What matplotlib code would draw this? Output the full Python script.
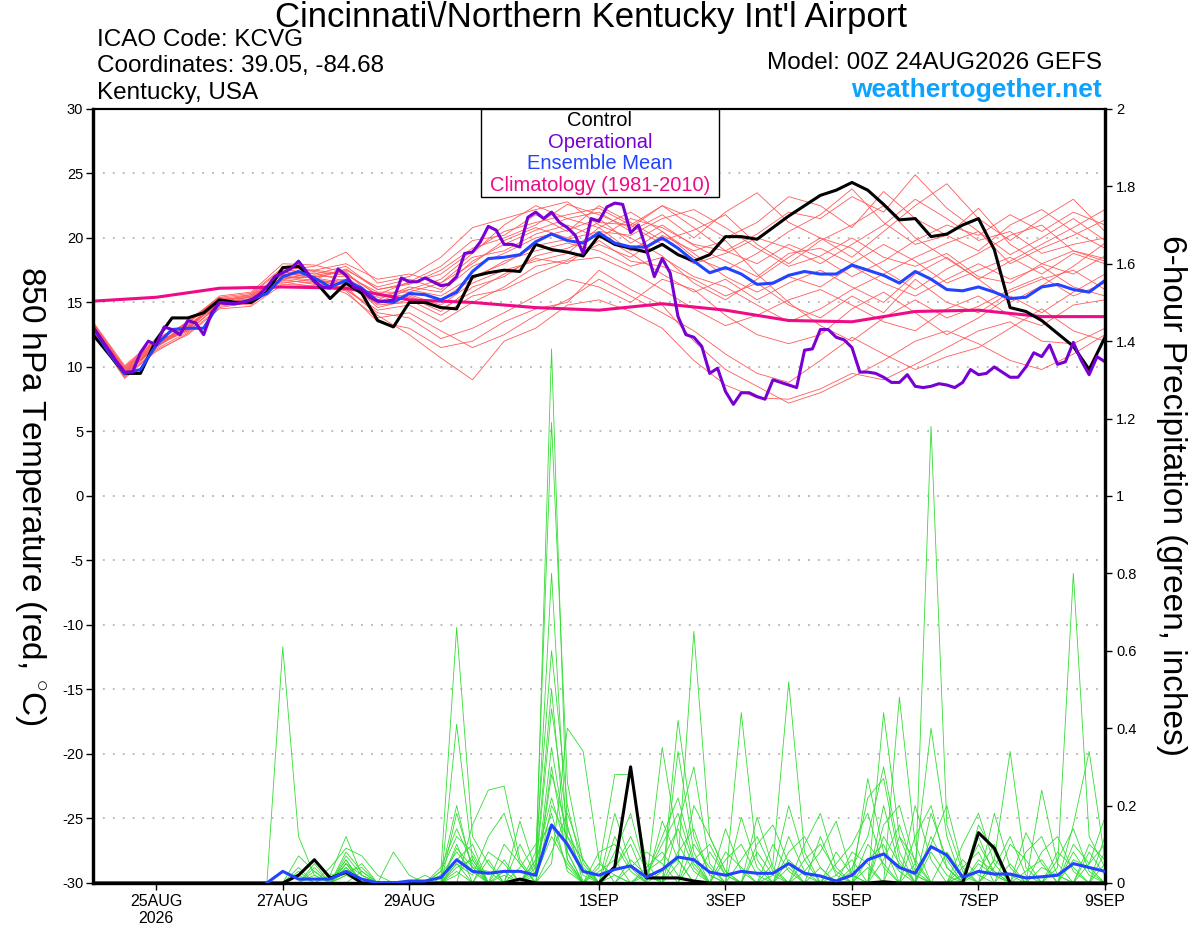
import pandas as pd
import matplotlib
matplotlib.use("Agg")
import matplotlib.pyplot as plt
from matplotlib.patches import Rectangle

plt.rcParams['font.family'] = ['Liberation Sans', 'DejaVu Sans']
plt.rcParams['mathtext.fontset'] = 'custom'
plt.rcParams['mathtext.rm'] = 'Liberation Sans'
plt.rcParams['axes.unicode_minus'] = False

# time axes (model run 00Z 24AUG2026)
times_3h = pd.date_range("2026-08-24 00:00", periods=129, freq="3h")
times_6h = pd.date_range("2026-08-24 00:00", periods=65, freq="6h")
times_12h = pd.date_range("2026-08-24 00:00", periods=33, freq="12h")
times_24h = pd.date_range("2026-08-24 00:00", periods=17, freq="24h")

tick_dates = pd.to_datetime(["2026-08-25", "2026-08-27", "2026-08-29", "2026-09-01",
                             "2026-09-03", "2026-09-05", "2026-09-07", "2026-09-09"])
tick_labels = ["25AUG\n2026", "27AUG", "29AUG", "1SEP", "3SEP", "5SEP", "7SEP", "9SEP"]

# operational run, 850 hPa temp (3-hourly)
operational = [
    13.1, 12.2, 11.3, 10.4, 9.6, 9.6, 11.1, 12.0, 11.7, 13.1, 12.9, 12.5, 13.6, 13.4, 12.5, 14.2,
    15.0, 14.9, 14.9, 15.0, 15.2, 15.6, 16.2, 17.0, 17.3, 17.6, 18.2, 17.4, 16.6, 16.2, 16.1, 17.6,
    17.1, 16.2, 16.0, 15.4, 15.1, 15.1, 15.2, 16.9, 16.6, 16.6, 16.9, 16.6, 16.3, 16.4, 17.0, 18.8,
    18.9, 19.7, 20.9, 20.6, 19.5, 19.5, 19.3, 21.6, 22.0, 21.5, 22.0, 21.2, 20.8, 20.2, 18.8, 21.5,
    21.3, 22.4, 22.7, 22.6, 20.4, 21.0, 19.1, 17.0, 18.4, 17.3, 13.9, 12.5, 12.3, 11.6, 9.5, 9.9,
    8.1, 7.1, 8.0, 8.0, 7.7, 7.5, 9.0, 8.8, 8.6, 8.4, 11.3, 11.4, 12.9, 12.9, 12.3, 12.1,
    11.5, 9.6, 9.6, 9.5, 9.2, 8.8, 8.8, 9.4, 8.5, 8.4, 8.5, 8.7, 8.6, 8.4, 8.8, 9.8,
    9.4, 9.5, 10.0, 9.6, 9.2, 9.2, 10.0, 11.1, 10.8, 11.7, 10.2, 10.4, 11.9, 10.5, 9.4, 10.8,
    10.4,
]

# control and ensemble mean, 850 hPa temp (6-hourly)
control = [
    12.5, 11.0, 9.5, 9.5, 12.1, 13.8, 13.8, 14.2, 15.2, 15.0, 15.0, 15.8, 17.7,
    17.8, 16.7, 15.3, 16.5, 15.7, 13.6, 13.1, 15.0, 15.0, 14.6, 14.5, 17.0, 17.3,
    17.5, 17.4, 19.5, 19.1, 18.9, 18.6, 20.2, 19.5, 19.2, 18.9, 19.5, 18.7, 18.2,
    18.7, 20.1, 20.1, 19.9, 20.8, 21.7, 22.5, 23.3, 23.7, 24.3, 23.7, 22.6, 21.4,
    21.5, 20.1, 20.3, 21.0, 21.5, 19.1, 14.6, 14.3, 13.6, 12.6, 11.6, 9.8, 12.3,
]
ens_mean = [
    13.1, 11.1, 9.5, 9.8, 11.7, 12.9, 13.0, 13.0, 15.0, 14.9, 15.2, 15.7, 17.0,
    17.4, 16.9, 16.2, 16.7, 16.1, 15.1, 15.0, 15.7, 15.6, 15.2, 15.8, 17.4, 18.4,
    18.5, 18.7, 19.7, 20.3, 19.8, 19.6, 20.4, 19.6, 19.3, 19.3, 20.0, 19.2, 18.2,
    17.3, 17.7, 17.2, 16.4, 16.5, 17.1, 17.4, 17.2, 17.2, 17.9, 17.5, 17.1, 16.5,
    17.4, 16.8, 16.0, 15.9, 16.2, 15.8, 15.3, 15.4, 16.2, 16.4, 16.0, 15.8, 16.7,
]

# 1981-2010 climatology (daily)
climatology = [15.1, 15.4, 16.1, 16.2, 16.1, 15.2, 15.0, 14.6, 14.4,
               14.9, 14.4, 13.6, 13.5, 14.3, 14.4, 13.9, 13.9]

# ensemble members, 850 hPa temp (12-hourly)
member_temps = [
    [13.3, 9.8, 12.0, 13.4, 15.3, 15.6, 17.6, 17.2, 17.8, 16.0, 16.5, 17.2, 19.0, 20.5, 21.2, 21.8, 22.3,
     21.0, 22.5, 20.8, 19.0, 20.3, 22.0, 21.5, 23.2, 22.0, 24.9, 22.3, 20.5, 18.7, 20.0, 21.5, 19.8],
    [12.8, 9.3, 11.2, 12.6, 14.6, 15.0, 16.8, 16.4, 16.2, 14.0, 12.5, 10.7, 9.0, 12.0, 13.0, 14.8, 15.2,
     14.3, 13.0, 10.5, 8.6, 7.6, 7.5, 8.3, 9.5, 9.0, 10.2, 11.5, 12.8, 13.5, 12.0, 11.8, 13.0],
    [13.0, 9.6, 11.8, 13.2, 15.2, 15.0, 17.5, 17.8, 18.9, 16.5, 17.0, 18.5, 20.8, 21.5, 22.2, 22.8, 21.0,
     20.0, 18.6, 16.5, 15.2, 16.8, 18.5, 20.0, 19.2, 17.5, 16.0, 17.6, 18.8, 20.2, 21.0, 19.0, 18.2],
    [13.4, 10.0, 12.1, 12.8, 14.8, 15.5, 16.6, 16.2, 16.0, 14.4, 14.8, 13.5, 15.0, 16.2, 17.8, 18.3, 19.5,
     18.5, 20.2, 19.0, 19.8, 17.2, 15.0, 13.2, 12.0, 13.8, 15.2, 13.8, 14.7, 16.0, 17.0, 15.5, 16.5],
    [12.9, 9.4, 11.5, 13.6, 15.4, 14.9, 17.3, 17.5, 17.2, 15.6, 16.6, 17.8, 19.8, 20.2, 21.8, 20.5, 22.5,
     21.2, 19.8, 20.6, 21.8, 19.5, 18.0, 19.8, 21.0, 22.5, 20.0, 18.4, 16.8, 18.2, 19.5, 20.8, 22.2],
    [13.2, 9.7, 11.9, 13.1, 15.0, 15.3, 16.9, 16.6, 15.7, 13.8, 14.2, 12.8, 11.5, 12.5, 14.0, 15.2, 16.8,
     15.5, 14.2, 12.8, 11.0, 9.5, 8.8, 10.5, 12.3, 11.0, 9.8, 10.8, 11.5, 13.0, 14.5, 12.8, 12.0],
    [13.0, 9.5, 11.6, 12.9, 15.1, 15.4, 17.2, 17.1, 17.5, 16.2, 16.8, 16.0, 18.2, 19.5, 20.6, 21.5, 20.8,
     22.0, 20.5, 18.5, 17.5, 18.8, 20.5, 21.8, 23.8, 21.2, 19.5, 20.2, 22.3, 19.5, 18.0, 17.2, 18.6],
    [13.1, 9.6, 11.7, 13.3, 14.7, 15.1, 16.5, 16.8, 16.4, 15.0, 15.4, 14.3, 16.2, 17.0, 18.6, 19.2, 20.2,
     18.8, 17.2, 15.8, 16.8, 15.2, 16.5, 17.5, 16.2, 15.0, 17.2, 18.5, 16.8, 15.0, 16.3, 17.8, 19.6],
    [13.5, 10.1, 12.2, 13.4, 15.5, 15.8, 18.0, 17.9, 17.3, 15.5, 16.0, 16.8, 18.8, 21.0, 22.5, 21.5, 22.0,
     20.5, 21.8, 20.0, 22.0, 23.5, 21.2, 20.0, 18.5, 20.5, 22.5, 24.2, 21.5, 19.8, 21.5, 23.0, 20.5],
    [12.7, 9.2, 11.4, 12.7, 14.9, 15.2, 17.0, 16.9, 16.0, 14.2, 13.8, 12.2, 13.0, 14.2, 15.5, 16.8, 16.2,
     15.0, 16.8, 16.0, 14.0, 12.5, 11.8, 12.5, 14.5, 15.8, 14.2, 12.5, 13.8, 15.5, 14.2, 15.8, 17.2],
    [13.2, 9.8, 11.8, 13.0, 15.2, 15.5, 17.2, 17.0, 17.0, 15.2, 16.2, 15.8, 17.8, 18.8, 20.0, 20.6, 21.5,
     19.6, 21.0, 19.4, 18.2, 17.0, 18.8, 19.2, 18.0, 19.5, 18.2, 16.5, 17.5, 18.5, 17.2, 18.8, 18.0],
    [13.0, 9.4, 11.6, 13.2, 15.0, 14.8, 16.8, 17.3, 16.6, 14.8, 15.0, 15.2, 16.8, 18.2, 19.0, 19.6, 19.0,
     17.8, 18.5, 17.0, 16.2, 14.8, 13.5, 14.5, 16.0, 17.2, 18.5, 19.6, 20.5, 18.0, 19.2, 20.2, 21.4],
    [13.3, 9.9, 12.0, 13.5, 15.3, 15.0, 17.4, 16.8, 17.6, 16.0, 16.4, 17.5, 19.2, 20.0, 21.0, 22.6, 21.8,
     20.8, 22.5, 21.5, 20.0, 21.2, 23.2, 22.5, 20.8, 23.6, 21.5, 20.2, 19.0, 21.0, 22.2, 20.5, 19.2],
    [12.9, 9.5, 11.7, 12.8, 14.8, 15.3, 16.7, 16.5, 16.8, 14.6, 15.2, 14.0, 15.5, 16.0, 17.2, 18.2, 18.5,
     17.4, 16.0, 14.5, 13.2, 14.0, 15.2, 16.0, 14.8, 13.5, 12.8, 14.5, 15.5, 14.0, 13.2, 14.8, 15.2],
    [13.1, 9.7, 11.9, 13.0, 15.1, 15.6, 17.1, 17.4, 17.1, 15.8, 15.8, 16.5, 18.0, 19.8, 20.8, 20.0, 21.2,
     21.0, 19.5, 18.0, 18.8, 20.0, 19.2, 18.0, 19.5, 21.0, 23.0, 21.5, 19.8, 20.5, 18.8, 19.5, 20.0],
    [13.2, 9.6, 11.5, 13.1, 14.9, 15.1, 17.0, 16.7, 16.3, 15.4, 15.6, 14.8, 16.5, 17.5, 18.2, 18.8, 20.8,
     19.0, 20.5, 18.8, 17.0, 15.8, 17.0, 16.2, 17.8, 16.5, 15.5, 16.8, 18.0, 16.8, 17.8, 16.2, 15.5],
    [13.0, 9.3, 11.8, 12.9, 15.2, 15.4, 16.9, 17.0, 17.4, 15.0, 16.0, 15.5, 17.0, 18.0, 19.4, 19.9, 20.5,
     20.2, 21.5, 22.2, 20.8, 19.2, 17.8, 18.6, 20.0, 18.5, 17.8, 18.8, 17.0, 16.5, 18.0, 19.0, 18.4],
    [13.1, 9.5, 11.6, 13.0, 15.0, 15.2, 17.0, 16.9, 16.5, 14.9, 15.5, 14.5, 15.8, 17.2, 18.4, 18.0, 19.8,
     18.2, 17.8, 16.8, 15.5, 16.5, 14.8, 13.8, 15.5, 14.2, 16.8, 15.0, 14.2, 15.8, 16.8, 17.5, 16.0],
    [12.8, 9.1, 11.3, 12.5, 14.5, 14.7, 16.4, 16.3, 15.9, 13.5, 13.0, 11.5, 12.0, 13.5, 14.5, 15.0, 17.5,
     16.0, 14.8, 12.0, 9.8, 8.5, 7.2, 8.0, 9.2, 10.5, 12.0, 12.8, 11.8, 10.5, 9.8, 11.0, 12.5],
    [13.4, 9.9, 12.1, 13.4, 15.4, 15.7, 17.7, 17.5, 18.0, 16.8, 17.2, 16.5, 18.5, 19.0, 20.3, 21.0, 20.0,
     21.5, 20.8, 19.5, 19.0, 18.0, 19.5, 18.5, 17.0, 18.2, 19.8, 21.0, 20.2, 21.8, 20.5, 22.0, 21.0],
]

# 6-hour precipitation, inches (6-hourly); None = not drawn
control_precip = [
    0, 0, 0, 0, 0, 0, 0, 0, 0, 0, 0, 0, 0,
    .02, .06, .013, .027, 0, 0, 0, 0, 0, 0, 0, 0, 0,
    0, .01, 0, 0, 0, 0, 0, .042, .30, .013, .013, .013, .005,
    0, 0, 0, 0, 0, 0, 0, 0, 0, 0, 0, .003, 0,
    0, 0, 0, 0, .13, .09, 0, 0, 0, 0, 0, 0, 0,
]
mean_precip = [
    None, None, None, None, None, None, None, None, None, None, None, 0, .03,
    .01, .01, .01, .03, .01, 0, 0, .005, .005, .014, .06, .03, .025,
    .03, .03, .02, .15, .10, .03, .02, .035, .044, .015, .035, .067, .06,
    .028, .02, .03, .025, .025, .05, .025, .018, .005, .02, .06, .075, .04,
    .025, .094, .072, .015, .03, .023, .023, .013, .016, .02, .05, .04, .03,
]
member_precip = [
    [0, 0, 0, 0, 0, 0, 0, 0, 0, 0, 0, 0, .61,
     .12, .02, 0, 0, .03, 0, 0, 0, 0, .02, .08, .03, 0,
     0, 0, .05, .22, .08, 0, 0, .04, .10, 0, 0, .05, .65,
     .12, .03, 0, 0, 0, .06, .02, 0, 0, 0, .10, .05, 0,
     0, 1.18, .15, .03, 0, 0, .05, 0, 0, 0, .08, .02, 0],
    [0, 0, 0, 0, 0, 0, 0, 0, 0, 0, 0, 0, 0,
     .03, 0, .02, .12, .02, 0, 0, 0, 0, .03, .66, .12, .05,
     0, 0, .02, 1.38, .12, .03, 0, 0, 0, .04, .08, .02, 0,
     0, 0, .44, .06, 0, 0, 0, .04, 0, 0, .27, .08, .03,
     0, 0, 0, 0, .05, .02, 0, 0, 0, .04, .80, .12, .04],
    [0, 0, 0, 0, 0, 0, 0, 0, 0, 0, 0, 0, 0,
     0, .04, 0, .07, .02, 0, 0, 0, 0, 0, .41, .06, 0,
     .03, 0, .06, 1.19, .26, .05, 0, .02, 0, 0, .35, .10, .03,
     0, 0, 0, 0, .05, .52, .08, 0, 0, 0, 0, .44, .12,
     .02, 0, 0, 0, 0, .06, .34, .04, 0, 0, 0, .05, .17],
    [0, 0, 0, 0, 0, 0, 0, 0, 0, 0, 0, 0, 0,
     .07, .03, 0, .05, 0, 0, .08, .02, 0, 0, 0, .15, .24,
     .25, .06, 0, .05, .40, .34, .06, 0, 0, 0, 0, .42, .12,
     .02, 0, 0, .17, .04, 0, 0, 0, .02, .06, 0, 0, .48,
     .10, 0, 0, .02, .10, .03, 0, 0, .24, .05, 0, 0, .12],
    [0, 0, 0, 0, 0, 0, 0, 0, 0, 0, 0, 0, 0,
     0, 0, .04, .09, .07, .02, 0, 0, 0, 0, .18, .04, 0,
     0, .16, .03, .45, .15, 0, .04, .28, .28, .05, 0, .34, .08,
     0, .14, .03, 0, 0, 0, .10, .18, .04, 0, 0, 0, 0,
     .05, .40, .12, 0, 0, .18, .04, 0, 0, 0, .15, .34, .06],
    [0, 0, 0, 0, 0, 0, 0, 0, 0, 0, 0, 0, 0,
     0, .02, 0, .04, 0, 0, 0, 0, 0, 0, .05, .02, .12,
     .18, .05, 0, .30, .06, 0, 0, .18, .05, 0, 0, 0, .20,
     .12, .03, 0, .10, .15, .05, 0, 0, 0, .03, .22, .27, .06,
     0, 0, 0, .04, .08, 0, 0, .13, .05, 0, 0, 0, .08],
    [0, 0, 0, 0, 0, 0, 0, 0, 0, 0, 0, 0, 0,
     0, 0, 0, .03, .04, 0, 0, 0, 0, .03, .12, .08, 0,
     0, 0, .08, .60, .20, .03, 0, 0, .06, .02, .12, .22, .06,
     0, 0, .17, .04, 0, 0, .03, .08, .16, .02, 0, 0, 0,
     .20, .06, 0, 0, .15, .08, 0, 0, .08, .12, .03, 0, 0],
    [0, 0, 0, 0, 0, 0, 0, 0, 0, 0, 0, 0, 0,
     .02, 0, 0, .06, 0, 0, 0, 0, .02, 0, .10, 0, .08,
     .05, 0, .03, .80, .08, 0, .08, .10, .03, 0, 0, .15, .30,
     .05, 0, 0, 0, .02, .20, .06, 0, 0, 0, 0, .15, .20,
     .05, 0, .08, .02, 0, 0, .10, .06, 0, 0, 0, .08, .02],
    [0, 0, 0, 0, 0, 0, 0, 0, 0, 0, 0, 0, 0,
     0, .05, 0, .02, 0, 0, 0, 0, 0, 0, .06, .10, 0,
     .02, 0, 0, .20, .12, .06, 0, 0, .04, .08, .05, 0, 0,
     .08, .02, 0, 0, 0, .08, .12, .04, 0, 0, .06, .10, 0,
     0, .18, .06, 0, 0, .04, .12, .02, 0, 0, .06, .04, 0],
    [0, 0, 0, 0, 0, 0, 0, 0, 0, 0, 0, 0, 0,
     0, 0, 0, .05, .02, 0, 0, 0, 0, .04, .14, .05, 0,
     0, .04, .10, .15, .04, 0, .03, .06, 0, 0, .16, .06, 0,
     0, .06, .10, .02, 0, 0, 0, 0, .05, .10, .18, .04, 0,
     0, .12, .04, 0, .03, .10, 0, 0, .04, .02, 0, 0, .05],
    [0, 0, 0, 0, 0, 0, 0, 0, 0, 0, 0, 0, 0,
     0, 0, .02, .03, 0, 0, 0, 0, 0, 0, .03, 0, 0,
     .10, .05, 0, .35, .10, .02, 0, 0, 0, .03, .06, .14, .04,
     0, 0, 0, 0, .10, .03, 0, .12, .02, 0, 0, .20, .04,
     .02, 0, 0, .06, .02, 0, 0, .08, .12, .02, 0, 0, 0],
    [0, 0, 0, 0, 0, 0, 0, 0, 0, 0, 0, 0, 0,
     0, 0, 0, .08, .03, 0, 0, 0, 0, 0, .09, .04, .03,
     0, 0, .04, .50, .06, 0, 0, .04, .12, .03, 0, 0, .10,
     .04, 0, .06, .12, .03, 0, 0, 0, 0, .04, .12, .30, .08,
     0, .08, .02, 0, 0, .06, .02, 0, 0, 0, .10, .05, .10],
    [0, 0, 0, 0, 0, 0, 0, 0, 0, 0, 0, 0, 0,
     .04, 0, 0, .05, 0, 0, 0, 0, 0, 0, .04, .06, 0,
     0, .10, .02, .12, .05, 0, .05, .02, 0, 0, 0, .08, .14,
     .02, 0, 0, 0, 0, .12, .03, 0, 0, 0, .04, 0, .12,
     .06, 0, 0, .10, .18, .05, 0, 0, 0, .06, .14, .03, 0],
    [0, 0, 0, 0, 0, 0, 0, 0, 0, 0, 0, 0, 0,
     0, 0, 0, .02, .05, 0, 0, 0, 0, 0, .05, 0, .06,
     0, 0, 0, .28, .14, .04, 0, .12, .04, 0, .03, .06, 0,
     0, .08, .04, 0, 0, 0, .06, .10, .03, 0, 0, .12, .05,
     0, .10, .20, .04, 0, 0, 0, .03, .06, 0, 0, 0, 0],
    [0, 0, 0, 0, 0, 0, 0, 0, 0, 0, 0, 0, 0,
     0, .03, 0, .06, 0, 0, 0, 0, 0, .02, .20, .03, 0,
     .06, 0, 0, .08, .18, .06, 0, 0, 0, .02, .10, .18, .05,
     0, 0, 0, .08, .02, 0, 0, 0, 0, .08, .05, 0, 0,
     .12, .20, .04, 0, .06, .03, 0, 0, 0, 0, 0, .10, .06],
    [0, 0, 0, 0, 0, 0, 0, 0, 0, 0, 0, 0, 0,
     0, 0, 0, .04, 0, 0, 0, 0, 0, 0, .02, .07, 0,
     0, 0, .06, .18, .03, 0, 0, .08, .18, .02, 0, 0, .06,
     .10, .02, 0, 0, 0, .04, 0, 0, .08, .02, 0, .06, .15,
     .03, 0, 0, .02, .12, .02, 0, 0, 0, .08, .04, 0, 0],
]

fig = plt.figure(figsize=(12, 9.27), dpi=100)
ax = fig.add_axes([0.0775, 0.0475, 0.8433, 0.835])
ax2 = ax.twinx()

# temperature
for m in member_temps:
    ax.plot(times_12h, m, color='#ff5a5a', lw=0.6, zorder=2)
ax.plot(times_24h, climatology, color='#ee0b85', lw=2.2, zorder=3)
ax.plot(times_6h, control, color='black', lw=2.2, zorder=4)
ax.plot(times_6h, ens_mean, color='#2244ff', lw=2.2, zorder=5)
ax.plot(times_3h, operational, color='#7800d2', lw=2.2, zorder=6)

# precipitation
for m in member_precip:
    ax2.plot(times_6h, m, color='#33dd33', lw=0.6, zorder=2)
ax2.plot(times_6h, control_precip, color='black', lw=2.2, zorder=4)
ax2.plot(times_6h, pd.Series(mean_precip, dtype=float), color='#2244ff', lw=2.2, zorder=5)

ax.set_xlim(times_6h[0], times_6h[-1])
ax.set_ylim(-30, 30)
ax2.set_ylim(0, 2)
ax.set_yticks(range(-30, 31, 5))
ax2.set_yticks([i / 10 for i in range(0, 21, 2)])
ax2.set_yticklabels(['%g' % (i / 10) for i in range(0, 21, 2)])
ax.set_xticks(tick_dates)
ax.set_xticklabels(tick_labels)

ax.yaxis.grid(True, color='#b4b4b4', lw=1.3, linestyle=(0, (1, 4.5)))
ax.set_axisbelow(True)

ax.tick_params(axis='y', direction='out', length=5, width=1, labelsize=10.5, pad=2)
ax.tick_params(axis='x', direction='out', length=5, width=1, labelsize=11.5, pad=3)
ax2.tick_params(axis='y', direction='out', length=5, width=1, labelsize=10.5, pad=3)

for a in (ax, ax2):
    a.spines['left'].set_linewidth(2.3)
    a.spines['bottom'].set_linewidth(2.3)
    a.spines['right'].set_linewidth(2.3)
    a.spines['top'].set_linewidth(1.5)

ax.set_ylabel("850 hPa Temperature (red, $^{\\circ}$C)", fontsize=24, rotation=270,
              ha='center', va='center')
ax.yaxis.set_label_coords(-0.062, 0.5)
ax2.set_ylabel("6-hour Precipitation (green, inches)", fontsize=24, rotation=270,
               ha='center', va='center')
ax2.yaxis.set_label_coords(1.066, 0.5)

# legend box
ax2.add_patch(Rectangle((0.3834, 0.8863), 0.2352, 0.1137, transform=ax2.transAxes,
                        facecolor='white', edgecolor='black', lw=1, zorder=10))
legend_items = [("Control", 'black', 0.9845), ("Operational", '#7800d2', 0.957),
                ("Ensemble Mean", '#2244ff', 0.930), ("Climatology (1981-2010)", '#ee0b85', 0.9005)]
for label, col, yy in legend_items:
    ax2.text(0.501, yy, label, color=col, fontsize=14.5, ha='center', va='center',
             transform=ax2.transAxes, zorder=11)

# header
fig.text(0.4925, 0.9806, "Cincinnati\\/Northern Kentucky Int'l Airport", fontsize=25,
         ha='center', va='center')
fig.text(0.081, 0.9568, "ICAO Code: KCVG", fontsize=17.5, ha='left', va='center')
fig.text(0.081, 0.9288, "Coordinates: 39.05, -84.68", fontsize=17.5, ha='left', va='center')
fig.text(0.081, 0.8997, "Kentucky, USA", fontsize=17.5, ha='left', va='center')
fig.text(0.9183, 0.932, "Model: 00Z 24AUG2026 GEFS", fontsize=17.5, ha='right', va='center')
fig.text(0.9183, 0.903, "weathertogether.net", fontsize=19, fontweight='bold',
         color='#0ea2ff', ha='right', va='center')

fig.savefig("out.png", dpi=100)
